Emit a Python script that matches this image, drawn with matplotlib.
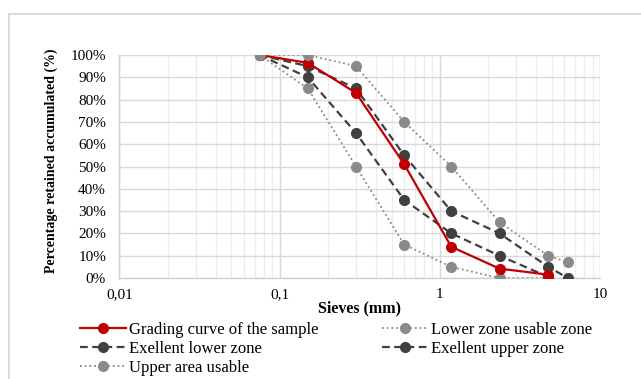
import matplotlib
matplotlib.use("Agg")
import matplotlib.pyplot as plt
from matplotlib.lines import Line2D
from matplotlib.ticker import FuncFormatter, LogLocator

# ---- data ----
grading_x = [0.075, 0.15, 0.3, 0.6, 1.18, 2.36, 4.75]
grading = [100, 96.5, 83, 51, 14, 4.2, 1.5]
lower_usable_x = [0.075, 0.15, 0.3, 0.6, 1.18, 2.36, 4.75]
lower_usable = [100, 85, 50, 15, 5, 0, 0]
exc_lower_x = [0.075, 0.15, 0.3, 0.6, 1.18, 2.36, 4.75]
exc_lower = [100, 90, 65, 35, 20, 10, 0.5]
exc_upper_x = [0.075, 0.15, 0.3, 0.6, 1.18, 2.36, 4.75, 6.3]
exc_upper = [100, 95, 85, 55, 30, 20, 5, 0]
upper_usable_x = [0.075, 0.15, 0.3, 0.6, 1.18, 2.36, 4.75, 6.3]
upper_usable = [100, 100, 95, 70, 50, 25, 10, 7]

labels = ["Grading curve of the sample", "Lower zone usable zone",
          "Exellent lower zone", "Exellent upper zone", "Upper area usable"]
y_ticks = [0, 10, 20, 30, 40, 50, 60, 70, 80, 90, 100]
x_ticks = [0.01, 0.1, 1, 10]

plt.rcParams['font.family'] = ['Liberation Serif', 'DejaVu Serif']

W, H = 641, 379
fig = plt.figure(figsize=(W / 100, H / 100), dpi=100)
L, R, T, B = 119.3, 600, 55, 278
ax = fig.add_axes([L / W, 1 - B / H, (R - L) / W, (B - T) / H])

red = '#C00000'
dark = '#404040'
gray = '#8a8a8a'
ms = 7

h_lower, = ax.plot(lower_usable_x, lower_usable, linestyle=(0, (1, 1.6)), color=gray, lw=1.3,
                   marker='o', ms=ms, mfc=gray, mec=gray, zorder=3)
h_exl, = ax.plot(exc_lower_x, exc_lower, linestyle=(0, (3.5, 2)), color=dark, lw=1.6,
                 marker='o', ms=ms, mfc=dark, mec=dark, zorder=3)
h_exu, = ax.plot(exc_upper_x, exc_upper, linestyle=(0, (3.5, 2)), color=dark, lw=1.6,
                 marker='o', ms=ms, mfc=dark, mec=dark, zorder=3)
h_red, = ax.plot(grading_x, grading, linestyle='-', color=red, lw=1.6,
                 marker='o', ms=ms, mfc=red, mec=red, zorder=4)
h_upper, = ax.plot(upper_usable_x, upper_usable, linestyle=(0, (1, 1.6)), color=gray, lw=1.3,
                   marker='o', ms=ms, mfc=gray, mec=gray, zorder=5)

ax.set_xscale('log')
ax.set_xlim(0.01, 10)
ax.set_ylim(0, 100)
ax.set_xticks(x_ticks)
ax.xaxis.set_major_formatter(FuncFormatter(lambda v, p: f"{v:g}".replace('.', ',')))
ax.xaxis.set_minor_locator(LogLocator(base=10, subs=range(2, 10)))
ax.xaxis.set_minor_formatter(FuncFormatter(lambda v, p: ""))
ax.set_yticks(y_ticks)
ax.yaxis.set_major_formatter(FuncFormatter(lambda v, p: f"{int(round(v))}%"))

ax.grid(which='major', color='#d9d9d9', lw=1.0, zorder=0)
ax.grid(which='minor', axis='x', color='#ededed', lw=1.0, zorder=0)
ax.set_axisbelow(True)
for s in ['top', 'right']:
    ax.spines[s].set_visible(False)
for s in ['left', 'bottom']:
    ax.spines[s].set_color('#d0d0d0')
    ax.spines[s].set_linewidth(1.0)
ax.tick_params(which='both', length=0)
ax.tick_params(axis='y', pad=9.5, labelsize=11, colors='#000000')
ax.tick_params(axis='x', pad=7, labelsize=11, colors='#000000')

ax.set_xlabel("Sieves (mm)", fontsize=11.5, fontweight='bold', labelpad=0)
fig.text(51 / W, 1 - 161 / H, "Percentage retained accumulated (%)", rotation=90,
         ha='center', va='center', fontsize=10, fontweight='bold')

handles = [h_red, h_exl, h_upper, h_lower, h_exu]
hl = [labels[0], labels[2], labels[4], labels[1], labels[3]]
leg = fig.legend(handles, hl, loc='upper left', bbox_to_anchor=(80 / W, 1 - 322 / H),
                 ncol=2, frameon=False, fontsize=12, handlelength=2.76, handletextpad=0.18,
                 columnspacing=3.8, labelspacing=0.17, borderpad=0, borderaxespad=0,
                 numpoints=1)

# outer border
fig.add_artist(Line2D([8.5 / W, 8.5 / W], [0, 1 - 13.5 / H], color='#d9d9d9', lw=1.4))
fig.add_artist(Line2D([8.5 / W, 1], [1 - 13.5 / H, 1 - 13.5 / H], color='#d9d9d9', lw=1.4))

fig.savefig("out.png", dpi=100, facecolor='white')
